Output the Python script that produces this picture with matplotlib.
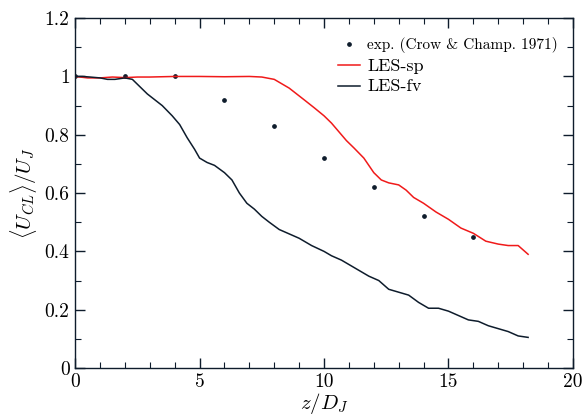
import matplotlib
matplotlib.use('Agg')
import matplotlib.pyplot as plt
from matplotlib.ticker import MultipleLocator, FixedLocator, FixedFormatter

plt.rcParams['font.family'] = 'serif'
plt.rcParams['font.serif'] = ['cmr10', 'DejaVu Serif']
plt.rcParams['mathtext.fontset'] = 'cm'
plt.rcParams['axes.formatter.use_mathtext'] = True

# experiment (Crow & Champagne 1971)
exp_z = [0, 2, 4, 6, 8, 10, 12, 14, 16]
exp_u = [1.0, 1.0, 1.0, 0.92, 0.83, 0.72, 0.62, 0.52, 0.45]

# LES-sp
sp_z = [0, 0.5, 1, 1.5, 2, 2.5, 3, 4, 5, 6, 7, 7.5, 8, 8.3, 8.6, 8.9, 9.2,
        9.6, 10.0, 10.3, 10.6, 10.9, 11.2, 11.6, 12.0, 12.3, 12.6, 13.0,
        13.3, 13.6, 14.0, 14.5, 15.0, 15.5, 16.0, 16.5, 17.0, 17.4, 17.8, 18.2]
sp_u = [1.0, 0.995, 0.995, 0.998, 0.996, 0.998, 0.998, 1.0, 1.0, 0.999, 1.0,
        0.998, 0.99, 0.975, 0.96, 0.94, 0.92, 0.893, 0.865, 0.84, 0.81, 0.78,
        0.755, 0.72, 0.67, 0.645, 0.635, 0.628, 0.61, 0.585, 0.565, 0.535,
        0.51, 0.48, 0.462, 0.435, 0.425, 0.42, 0.42, 0.39]

# LES-fv
fv_z = [0, 0.3, 0.6, 1.0, 1.3, 1.6, 2.0, 2.3, 2.6, 2.9, 3.2, 3.5, 3.9, 4.2,
        4.5, 4.8, 5.0, 5.3, 5.6, 6.0, 6.3, 6.6, 6.9, 7.2, 7.5, 7.8, 8.2, 8.6,
        9.0, 9.5, 10.0, 10.3, 10.7, 11.0, 11.4, 11.8, 12.2, 12.6, 13.0, 13.4,
        13.8, 14.2, 14.6, 15.0, 15.4, 15.8, 16.2, 16.6, 17.0, 17.4, 17.8, 18.2]
fv_u = [1.0, 1.0, 0.998, 0.995, 0.99, 0.99, 0.995, 0.99, 0.965, 0.94, 0.92,
        0.9, 0.865, 0.835, 0.79, 0.75, 0.72, 0.705, 0.695, 0.67, 0.645, 0.6,
        0.565, 0.545, 0.52, 0.5, 0.475, 0.46, 0.445, 0.42, 0.4, 0.385, 0.37,
        0.355, 0.335, 0.315, 0.3, 0.27, 0.26, 0.25, 0.225, 0.205, 0.205, 0.195,
        0.18, 0.165, 0.16, 0.145, 0.135, 0.125, 0.11, 0.105]

yticks = [0, 0.2, 0.4, 0.6, 0.8, 1.0, 1.2]
ytick_labels = ['0', '0.2', '0.4', '0.6', '0.8', '1', '1.2']
xticks = [0, 5, 10, 15, 20]
xtick_labels = ['0', '5', '10', '15', '20']

navy = '#0e1c2c'

fig = plt.figure(figsize=(5.87, 4.17), dpi=100)
ax = fig.add_axes([0.128, 0.1175, 0.848, 0.839])

ax.plot(exp_z, exp_u, linestyle='none', marker='o', markersize=2.4,
        color=navy, label='exp. (Crow & Champ. 1971)', zorder=1.5)
ax.plot(sp_z, sp_u, color='#f01a1a', lw=1.1, label='LES-sp')
ax.plot(fv_z, fv_u, color=navy, lw=1.1, label='LES-fv')

ax.set_xlim(0, 20)
ax.set_ylim(0, 1.2)
ax.xaxis.set_major_locator(FixedLocator(xticks))
ax.xaxis.set_major_formatter(FixedFormatter(xtick_labels))
ax.yaxis.set_major_locator(FixedLocator(yticks))
ax.yaxis.set_major_formatter(FixedFormatter(ytick_labels))
ax.xaxis.set_minor_locator(MultipleLocator(1))
ax.yaxis.set_minor_locator(MultipleLocator(0.1))
ax.tick_params(which='both', direction='in', top=True, right=True,
               color=navy, labelsize=14, pad=4)
ax.tick_params(which='major', length=7, width=1)
ax.tick_params(which='minor', length=4, width=0.8)
for s in ax.spines.values():
    s.set_color(navy)
    s.set_linewidth(1.0)

ax.set_xlabel(r'$z/D_J$', fontsize=15, labelpad=0)
ax.set_ylabel(r'$\langle U_{CL}\rangle/U_J$', fontsize=15, labelpad=4)

leg = ax.legend(loc='upper right', frameon=False, fontsize=11,
                handlelength=1.4, handletextpad=0.5, labelspacing=0.35,
                borderaxespad=0.5, bbox_to_anchor=(0.998, 0.985))
for t in leg.get_texts()[1:]:
    t.set_fontsize(13)

fig.savefig('out.png', dpi=100)
